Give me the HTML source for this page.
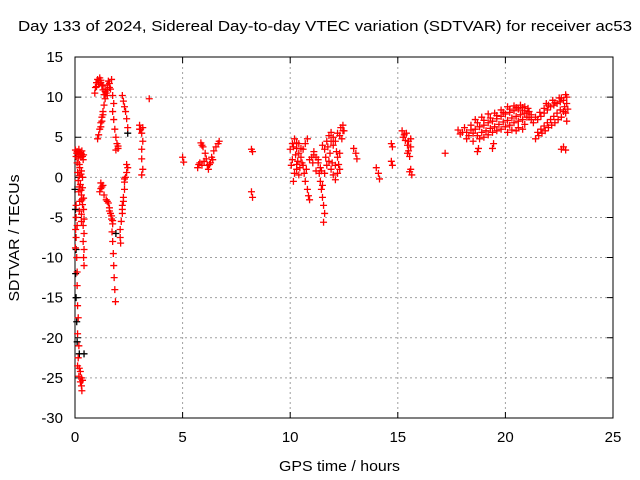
<!DOCTYPE html>
<html><head><meta charset="utf-8"><style>
html,body{margin:0;padding:0;background:#fff;}
svg{display:block;font-family:"Liberation Sans",sans-serif;}
</style></head><body>
<svg id="chart" width="640" height="480" viewBox="0 0 640 480">
<rect width="640" height="480" fill="#fff"/>
<g id="grid"></g>
<g id="axes"></g>
<g id="marks"></g>
<text x="18" y="31" font-size="15" textLength="614" lengthAdjust="spacingAndGlyphs" fill="#000">Day 133 of 2024, Sidereal Day-to-day VTEC variation (SDTVAR) for receiver ac53</text>
<text x="279" y="471" font-size="15" textLength="121" lengthAdjust="spacingAndGlyphs" fill="#000">GPS time / hours</text>
<text x="0" y="0" font-size="15" text-anchor="middle" textLength="127" lengthAdjust="spacingAndGlyphs" fill="#000" transform="translate(19,238) rotate(-90)">SDTVAR / TECUs</text>
</svg>
<script>
const xTicks = [0,5,10,15,20,25];
const yTicks = [15,10,5,0,-5,-10,-15,-20,-25,-30];
const redPointsEarly = [[0.02,3.4],[0.1,3.2],[0.18,3.5],[0.25,3.0],[0.32,3.3],[0.4,2.8],[0.05,2.6],[0.15,2.4],[0.28,2.5],[0.38,2.2],[0.1,1.8],[0.22,1.2],[0.3,0.8],[0.12,0.6],[0.2,0.2],[0.35,0.0],[0.15,-0.4],[0.25,-0.9],[0.35,-1.3],[0.18,-1.8],[0.3,-2.2],[0.4,-2.6],[0.22,-3.0],[0.35,-3.4],[0.4,-4.0],[0.3,-4.6],[0.42,-5.2],[0.38,-6.0],[0.42,-7.0],[0.38,-8.0],[0.42,-9.0],[0.4,-10.0],[0.42,-11.0],[0.05,-3.5],[0.05,-5],[0.03,-6.5],[0.05,-7.5],[0.02,-8.8],[0.08,-10],[0.1,-11.8],[0.1,-13.5],[0.12,-16],[0.15,-17.5],[0.12,-19.5],[0.18,-21],[0.15,-22.5],[0.12,-23.5],[0.2,-23.8],[0.25,-24.2],[0.18,-24.8],[0.3,-25],[0.25,-25.5],[0.35,-25.3],[0.3,-26],[0.32,-26.6],
[0.08,3.0],[0.22,3.1],[0.3,2.9],[0.15,2.9],[0.35,2.6],[0.2,1.6],[0.28,0.4],[0.2,-1.2],[0.28,-1.6],[0.32,-2.8],[0.2,-4.2],[0.1,-6],[0.3,-5.5],
[0.95,11.2],[1.0,11.8],[1.05,12.2],[1.1,11.6],[1.15,12.4],[1.2,12.1],[1.25,11.4],[1.3,10.9],[1.4,11.0],[1.5,11.5],[1.55,12.0],[1.6,11.7],[1.65,11.0],[1.45,10.5],[1.35,10.3],[0.92,10.5],[1.7,12.2],
[1.1,12.0],[1.2,11.8],[1.3,11.5],[1.4,10.7],[1.5,10.9],[1.6,11.2],[1.5,10.2],[1.0,11.3],
[1.4,9.8],[1.35,9.0],[1.3,8.2],[1.25,7.5],[1.2,6.8],[1.15,6.0],[1.1,5.3],[1.05,4.8],[1.2,6.3],[1.25,7.0],[1.3,7.8],
[1.2,-0.7],[1.25,-1.2],[1.15,-1.8],[1.3,-1.0],[1.2,-1.4],
[1.35,-2.2],[1.45,-2.8],[1.55,-3.2],[1.6,-3.8],[1.65,-4.5],[1.7,-5.2],[1.75,-5.8],[1.72,-6.8],[1.75,-8],[1.78,-9.5],[1.8,-11],[1.82,-12.5],[1.85,-14],[1.88,-15.5],[1.5,-3.0],[1.6,-4.2],[1.7,-4.8],[1.75,-5.4],
[1.75,10.2],[1.8,9.2],[1.75,8.2],[1.8,7.2],[1.85,6],[1.9,5],[1.95,4.2],[2.0,3.6],[2.2,10.2],[2.25,9.5],[2.3,8.8],[2.35,8.2],[2.4,7.3],[2.45,6.2],[1.9,3.4],[2.0,3.9],
[2.45,1.2],[2.4,0.6],[2.35,0],[2.3,-0.6],[2.3,-1.5],[2.25,-2.5],[2.2,-3.5],[2.2,-4.5],[2.15,-5.5],[2.1,-6.5],[2.1,-7.5],[2.12,-8.2],[2.4,1.6],[2.3,-0.2],[2.25,-3.0],[2.2,-4.0],
[3.0,6.5],[3.05,6.0],[3.1,5.5],[3.15,4.5],[3.1,3.5],[3.1,2.3],[3.15,1.0],[3.1,0.3],[3.45,9.8],[3.0,6.0],[3.15,6.2]];
const redPointsMid = [[5.0,2.5],[5.05,1.9],[5.7,1.2],[5.8,1.8],[5.85,4.3],[5.95,3.8],[6.05,3.0],[6.1,2.3],[6.15,1.5],[6.2,1.0],[6.25,1.6],[6.35,2.5],[6.45,3.3],[6.55,3.8],[6.65,4.2],[6.7,4.5],[5.9,1.5],[6.0,2.0],[8.2,3.5],[8.25,3.2],[8.2,-1.8],[8.25,-2.5],[5.75,1.6],[6.3,1.8],[6.4,2.2],[5.9,4.0],
[10.0,3.5],[10.1,4.2],[10.2,4.8],[10.3,4.3],[10.4,3.0],[10.35,2.0],[10.3,1.0],[10.2,0.5],[10.15,-0.5],[10.5,2.5],[10.6,1.5],[10.65,0.5],[10.7,-0.5],[10.8,-1.5],[10.85,-2.3],[10.9,-2.8],[10.6,3.5],[10.7,4.2],[10.8,4.8],[10.25,2.8],[10.45,1.2],[11.0,2.5],[11.1,3.2],[11.2,2.5],[11.3,1.8],[11.35,0.5],[11.4,-0.5],[11.45,-1.5],[11.5,-2.5],[11.55,-3.5],[11.6,-4.5],[11.55,-5.6],[11.6,0.5],[11.7,1.5],[11.8,2.0],[11.9,1.0],[12.0,0.3],[12.1,-0.3],[12.2,0.5],[12.3,1.0],[11.6,3.5],[11.7,4.5],[11.8,5.2],[11.9,5.6],[12.0,5.0],[12.1,4.5],[12.2,5.5],[12.35,6.2],[12.45,6.5],[12.5,5.8],[12.4,4.8],[12.3,3.0],[12.2,2.5],[11.65,2.5],[11.5,4.0],[10.1,2.2],[10.05,1.5],[11.05,1.8],[11.2,0.8],
[10.15,3.8],[10.3,3.6],[10.4,4.2],[10.5,3.6],[10.55,1.8],[10.3,1.6],[10.4,0.3],[10.75,1.0],[10.9,2.2],[11.1,2.8],[11.3,2.2],[11.4,1.2],[11.75,3.8],[11.9,4.5],[12.0,4.0],[12.15,3.2],[11.85,3.0],[11.95,1.8],[12.1,1.5],[12.25,1.6],[11.5,-1.0],[11.45,0.8],[12.3,5.2],[12.45,5.8],
[12.95,3.6],[13.05,3.0],[13.1,2.3],[14.0,1.2],[14.1,0.5],[14.15,-0.2],[14.7,4.2],[14.75,3.8],[14.7,2.0],[14.75,1.5],[15.2,5.8],[15.3,5.3],[15.35,4.6],[15.45,4.0],[15.5,3.3],[15.6,3.8],[15.55,2.6],[15.6,1.0],[15.65,0.3],[17.2,3.0],[15.25,5.0],[15.4,5.5],[15.5,4.5],[15.6,4.8],[15.45,3.0],[15.55,0.7]];
const redPointsLate = [[17.8,5.9],[18.0,5.6],[18.2,5.6],[18.4,5.9],[18.6,6.0],[18.8,6.3],[19.0,6.5],[19.2,6.8],[19.4,7.0],[19.6,7.3],[19.8,7.6],[20.0,7.9],[20.2,8.1],[20.4,8.3],[20.6,8.5],[20.8,8.7],[20.9,8.8],[21.0,8.0],[21.1,7.5],[21.3,6.8],[21.5,7.2],[21.65,7.6],[21.8,8.0],[21.95,8.4],[22.1,8.8],[22.25,9.0],[22.4,9.2],[22.55,9.4],[22.7,9.6],[22.85,10.0],
[18.6,7.2],[18.9,7.5],[19.2,7.9],[19.5,8.0],[19.8,8.4],[20.1,8.8],[20.4,8.9],[20.7,9.0],[21.9,9.2],[22.2,9.6],[22.5,9.9],[22.8,10.3],[18.2,4.8],[18.5,4.5],
[18.7,6.8],[19.0,7.1],[19.3,7.4],[19.6,7.7],[19.9,8.1],[20.2,8.5],[20.5,8.7],[20.8,8.3],[21.05,8.6],[21.2,7.2],[21.4,7.5],[21.6,8.1],[21.8,8.6],[22.0,9.0],[22.3,9.3],[22.6,9.9],[18.1,6.2],[18.3,5.2],[17.9,5.4],[18.4,6.5],
[18.5,5.5],[18.8,4.8],[19.0,5.0],[19.2,5.3],[19.4,5.6],[19.6,5.8],[19.8,6.0],[20.0,6.3],[20.2,6.5],[20.4,6.8],[20.6,7.0],[20.8,7.2],[21.0,7.5],[21.2,7.8],[20.3,5.9],[20.6,6.2],[20.9,6.6],
[18.7,5.2],[18.9,5.6],[19.1,5.8],[19.3,6.1],[19.5,6.3],[19.7,6.6],[19.9,6.9],[20.1,7.1],[20.3,7.4],[20.5,7.6],[20.7,7.8],[20.9,8.0],[21.1,8.2],[20.1,5.6],[20.5,5.8],[20.8,6.0],
[21.4,4.8],[21.55,5.2],[21.7,5.5],[21.85,5.8],[22.0,6.2],[22.15,6.5],[22.3,6.8],[22.45,7.2],[22.6,7.5],[22.8,8.0],[22.85,7.0],[22.75,8.8],
[21.5,5.6],[21.65,6.0],[21.8,6.4],[21.95,6.8],[22.1,7.2],[22.25,7.6],[22.4,8.0],[22.55,8.4],[22.7,8.2],[22.85,9.2],[22.9,8.5],
[18.7,3.2],[18.75,3.6],[19.4,3.6],[19.45,4.2],[22.6,3.5],[22.7,3.8],[22.8,3.4]];
const blackPoints = [[0.02,-4],[0.05,-9],[0.03,-12],[0.08,-18],[0.1,-20.5],[0.2,-22],[0.42,-22],[1.9,-7],[2.45,5.5],[0.0,-1.5],[0.05,-15]];

const X0=75,X1=613,Y0=57,Y1=418;
function xs(v){return X0+(v-0)*(X1-X0)/25;}
function ys(v){return Y0+(15-v)*(Y1-Y0)/45;}
const NS="http://www.w3.org/2000/svg";
const grid=document.getElementById('grid'),axes=document.getElementById('axes'),marks=document.getElementById('marks');
function mk(tag,attrs,parent){const e=document.createElementNS(NS,tag);for(const k in attrs)e.setAttribute(k,attrs[k]);parent.appendChild(e);return e;}
xTicks.forEach(t=>{
  const x=xs(t);
  if(t>0&&t<25){const g=mk('line',{x1:x,y1:Y0,x2:x,y2:Y1,stroke:'#a0a0a0','stroke-dasharray':'2,3','stroke-width':1},grid);
  
  }
  const tk=mk('path',{d:`M${x} ${Y1}v-6M${x} ${Y0}v6`,stroke:'#000'},axes);
  
  
  const tx=mk('text',{x:x,y:Y1+24,'font-size':15,'text-anchor':'middle'},axes);tx.textContent=t;
  
  
});
yTicks.forEach(t=>{
  const y=ys(t);
  if(t<15&&t>-30){const g=mk('line',{x1:X0,y1:y,x2:X1,y2:y,stroke:'#a0a0a0','stroke-dasharray':'2,3','stroke-width':1},grid);
  
  }
  const tk=mk('path',{d:`M${X0} ${y}h6M${X1} ${y}h-6`,stroke:'#000'},axes);
  
  
  const tx=mk('text',{x:X0-12,y:y+5,'font-size':15,'text-anchor':'end'},axes);tx.textContent=t;
  
  
});
const frame=mk('rect',{x:X0,y:Y0,width:X1-X0,height:Y1-Y0,fill:'none',stroke:'#000'},axes);


function plot(arr,color){
  arr.forEach(p=>{
    const x=xs(p[0]),y=ys(p[1]);
    const m=mk('path',{d:`M${x-3.5} ${y}h7M${x} ${y-3.5}v7`,stroke:color,'stroke-width':1.3},marks);
    
    
  });
}
plot(blackPoints,'#000');
plot(redPointsEarly,'#ff0000');
plot(redPointsMid,'#ff0000');
plot(redPointsLate,'#ff0000');
</script>
</body></html>
